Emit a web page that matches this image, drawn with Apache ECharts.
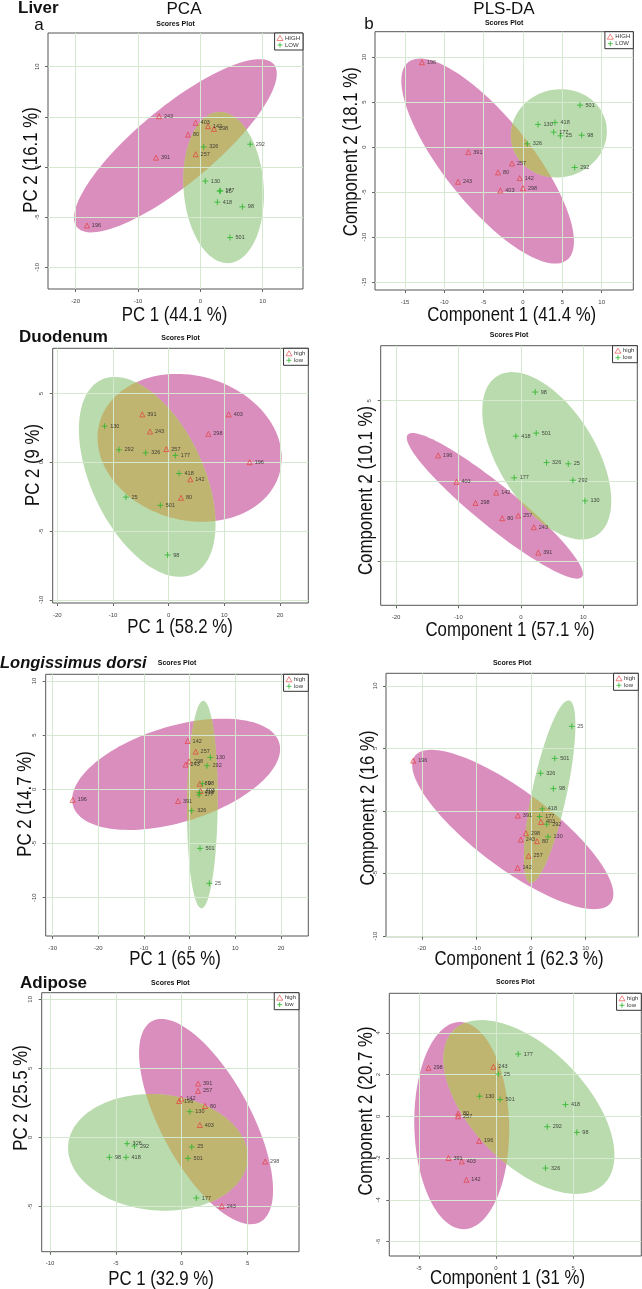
<!DOCTYPE html>
<html>
<head>
<meta charset="utf-8">
<script src="https://cdn.jsdelivr.net/npm/echarts@6/dist/echarts.min.js"></script>
<style>
  html, body { margin: 0; padding: 0; background: #fff; }
  #main { width: 642px; height: 1289px; }
</style>
</head>
<body>
<div id="main"></div>
<script>
// sample ids, same order in every score array below
const HIGH_IDS = ["196", "391", "243", "80", "257", "142", "403", "298"];
const LOW_IDS = ["130", "177", "418", "25", "98", "501", "292", "326"];

// Liver
const liverPcaHigh = [[-18.2, -5.83], [-7.11, 0.93], [-6.63, 5.07], [-1.98, 3.23], [-0.75, 1.27], [1.23, 4.07], [-0.75, 4.4], [2.19, 3.8]];
const liverPcaLow = [[0.8, -1.4], [3.1, -2.37], [2.73, -3.5], [3.2, -2.4], [6.74, -3.97], [4.76, -7.03], [8.0, 2.27], [0.53, 2.0]];
const liverPlsHigh = [[-12.84, 9.44], [-6.95, -0.56], [-8.26, -3.85], [-3.18, -2.81], [-1.4, -1.81], [-0.42, -3.44], [-2.88, -4.81], [0, -4.56]];
const liverPlsLow = [[1.91, 2.52], [3.9, 1.67], [4.07, 2.74], [4.75, 1.26], [7.46, 1.33], [7.25, 4.67], [6.57, -2.26], [0.55, 0.37]];
// Duodenum
const duoPcaHigh = [[14.55, 0.02], [-4.73, 3.49], [-3.35, 2.25], [2.22, -2.57], [-0.42, 0.97], [3.89, -1.23], [10.78, 3.49], [7.13, 2.08]];
const duoPcaLow = [[-11.5, 2.64], [1.2, 0.51], [1.86, -0.8], [-7.66, -2.52], [-0.18, -6.73], [-1.5, -3.12], [-8.92, 0.92], [-4.13, 0.7]];
const duoPlsHigh = [[-13.25, 1.6], [2.78, -4.44], [2.08, -2.86], [-2.99, -2.3], [-0.43, -2.14], [-3.95, -0.71], [-10.31, -0.04], [-7.26, -1.35]];
const duoPlsLow = [[10.26, -1.22], [-1.07, 0.21], [-0.8, 2.8], [7.59, 1.08], [2.3, 5.54], [2.46, 2.99], [8.33, 0.06], [4.11, 1.16]];
// Longissimus dorsi
const ldPcaHigh = [[-25.62, -0.98], [-2.55, -1.08], [-0.88, 2.28], [2.19, 0.52], [1.31, 3.48], [-0.44, 4.46], [2.41, -0.15], [-0.15, 2.58]];
const ldPcaLow = [[4.53, 2.95], [2.04, -0.52], [2.12, -0.28], [4.31, -8.68], [2.77, 0.52], [2.26, -5.45], [3.8, 2.18], [0.44, -1.97]];
const ldPlsHigh = [[-21.57, 4.02], [-2.39, -0.37], [-1.84, -2.29], [1.1, -2.42], [-0.43, -3.59], [-2.45, -4.55], [1.84, -0.88], [-0.92, -1.78]];
const ldPlsLow = [[3.13, -2.07], [1.59, -0.45], [2.08, 0.16], [7.48, 6.76], [4.11, 1.78], [4.35, 4.2], [2.88, -1.06], [1.78, 3.01]];
// Adipose
const adiPcaHigh = [[-0.2, 2.63], [1.24, 3.89], [3.04, -4.98], [1.77, 2.27], [1.24, 3.36], [-0.03, 2.8], [1.37, 0.89], [6.33, -1.76]];
const adiPcaLow = [[0.61, 1.86], [1.11, -4.4], [-4.23, -1.45], [0.76, -0.7], [-5.49, -1.45], [0.48, -1.52], [-3.59, -0.63], [-4.15, -0.46]];
const adiPlsHigh = [[-1.1, -1.18], [-3.08, -2.0], [-0.17, 2.37], [-2.46, 0.13], [-2.46, 0.0], [-1.92, -3.04], [-2.22, -2.16], [-4.38, 2.32]];
const adiPlsLow = [[-1.06, 0.96], [1.44, 2.98], [4.5, 0.56], [0.15, 2.02], [5.24, -0.77], [0.26, 0.8], [3.32, -0.5], [3.21, -2.48]];

// tick labels
const liverPcaXTicks = [-20, -10, 0, 10];
const liverPcaYTicks = [-10, -5, 0, 5, 10];
const liverPlsXTicks = [-15, -10, -5, 0, 5, 10];
const liverPlsYTicks = [-15, -10, -5, 0, 5, 10];
const duoPcaXTicks = [-20, -10, 0, 10, 20];
const duoPcaYTicks = [-10, -5, 0, 5];
const duoPlsXTicks = [-20, -10, 0, 10];
const duoPlsYTicks = [-5, 0, 5];
const ldPcaXTicks = [-30, -20, -10, 0, 10, 20];
const ldPcaYTicks = [-10, -5, 0, 5, 10];
const ldPlsXTicks = [-20, -10, 0, 10];
const ldPlsYTicks = [-10, -5, 0, 5, 10];
const adiPcaXTicks = [-10, -5, 0, 5];
const adiPcaYTicks = [-5, 0, 5, 10];
const adiPlsXTicks = [-5, 0, 5];
const adiPlsYTicks = [-6, -4, -2, 0, 2, 4];

const RED = "#e5403e";
const GREEN = "#2bb52b";
const PINK_FILL = "#da8ebe";
const GREEN_FILL = "#b9dbad";
const MIX_FILL = "#c0b471";
const GRID_LINE = "#d5e8d0";
const FONT = '"Liberation Sans", Arial, sans-serif';
const PLUS = "path://M5,0L5,10M0,5L10,5";

// box = [left, top, width, height]
const panels = [
  { high: liverPcaHigh, low: liverPcaLow, names: ["HIGH", "LOW"], box: [48, 33, 255, 256], xr: [-24.44, 16.47], yr: [-12.16, 13.36],
    xt: liverPcaXTicks, yt: liverPcaYTicks, xName: "PC 1 (44.1 %)", yName: "PC 2 (16.1 %)", xPos: [174.5, 315], yPos: [31.7, 160], tY: 23.7 },
  { high: liverPlsHigh, low: liverPlsLow, names: ["HIGH", "LOW"], box: [375, 31.7, 258.3, 258.3], xr: [-18.81, 14.02], yr: [-15.89, 12.84],
    xt: liverPlsXTicks, yt: liverPlsYTicks, xName: "Component 1 (41.4 %)", yName: "Component 2 (18.1 %)", xPos: [511.7, 315], yPos: [351.7, 151.7], tY: 22.7 },
  { high: duoPcaHigh, low: duoPcaLow, names: ["high", "low"], box: [52.7, 348.3, 255.6, 254.7], xr: [-20.83, 25.08], yr: [-10.22, 8.3],
    xt: duoPcaXTicks, yt: duoPcaYTicks, xName: "PC 1 (58.2 %)", yName: "PC 2 (9 %)", xPos: [180, 627.7], yPos: [33, 465], tY: 337.7 },
  { high: duoPlsHigh, low: duoPlsLow, names: ["high", "low"], box: [380.7, 345.7, 256.6, 259.6], xr: [-22.45, 18.65], yr: [-7.71, 8.42],
    xt: duoPlsXTicks, yt: duoPlsYTicks, xName: "Component 1 (57.1 %)", yName: "Component 2 (10.1 %)", xPos: [510, 630], yPos: [366.7, 490.5], tY: 335 },
  { high: ldPcaHigh, low: ldPcaLow, names: ["high", "low"], box: [45.7, 674.3, 262.6, 261.7], xr: [-31.53, 25.98], yr: [-13.54, 10.62],
    xt: ldPcaXTicks, yt: ldPcaYTicks, xName: "PC 1 (65 %)", yName: "PC 2 (14.7 %)", xPos: [175, 959], yPos: [25, 804], tY: 663.3 },
  { high: ldPlsHigh, low: ldPlsLow, names: ["high", "low"], box: [386, 673.3, 252.3, 263.4], xr: [-26.56, 19.67], yr: [-10.05, 11.0],
    xt: ldPlsXTicks, yt: ldPlsYTicks, xName: "Component 1 (62.3 %)", yName: "Component 2 (16 %)", xPos: [519, 959], yPos: [368.3, 808], tY: 662.7 },
  { high: adiPcaHigh, low: adiPcaLow, names: ["high", "low"], box: [41.7, 992.7, 257.3, 259], xr: [-10.63, 8.9], yr: [-8.29, 10.48],
    xt: adiPcaXTicks, yt: adiPcaYTicks, xName: "PC 1 (32.9 %)", yName: "PC 2 (25.5 %)", xPos: [161, 1279.3], yPos: [21.7, 1098], tY: 982.7 },
  { high: adiPlsHigh, low: adiPlsLow, names: ["high", "low"], box: [389.3, 993.3, 252, 262.7], xr: [-6.92, 9.42], yr: [-6.69, 5.89],
    xt: adiPlsXTicks, yt: adiPlsYTicks, xName: "Component 1 (31 %)", yName: "Component 2 (20.7 %)", xPos: [507.5, 1278.3], yPos: [366.7, 1111], tY: 982.3 }
];

// 95% confidence ellipse of a group (sample covariance, chi-square 2 df)
const CHI = Math.sqrt(5.991464547);
function ellipse(pts, n) {
  const m = pts.length;
  let mx = 0, my = 0;
  pts.forEach(p => { mx += p[0]; my += p[1]; });
  mx /= m; my /= m;
  let sxx = 0, syy = 0, sxy = 0;
  pts.forEach(p => {
    const dx = p[0] - mx, dy = p[1] - my;
    sxx += dx * dx; syy += dy * dy; sxy += dx * dy;
  });
  sxx /= m - 1; syy /= m - 1; sxy /= m - 1;
  const l11 = Math.sqrt(sxx), l21 = sxy / l11, l22 = Math.sqrt(Math.max(syy - l21 * l21, 0));
  const out = [];
  for (let i = 0; i < n; i++) {
    const t = 2 * Math.PI * i / n, c = Math.cos(t), s = Math.sin(t);
    out.push([mx + CHI * l11 * c, my + CHI * (l21 * c + l22 * s)]);
  }
  return out;
}

// overlap of two convex polygons (both counter-clockwise)
function clip(subject, clipPoly) {
  let output = subject;
  for (let i = 0; i < clipPoly.length; i++) {
    const a = clipPoly[i], b = clipPoly[(i + 1) % clipPoly.length];
    const input = output;
    output = [];
    if (!input.length) break;
    const inside = p => (b[0] - a[0]) * (p[1] - a[1]) - (b[1] - a[1]) * (p[0] - a[0]) >= 0;
    const cross = (p, q) => {
      const d = (p[0] - q[0]) * (a[1] - b[1]) - (p[1] - q[1]) * (a[0] - b[0]);
      const t = ((p[0] - a[0]) * (a[1] - b[1]) - (p[1] - a[1]) * (a[0] - b[0])) / d;
      return [p[0] + t * (q[0] - p[0]), p[1] + t * (q[1] - p[1])];
    };
    for (let j = 0; j < input.length; j++) {
      const cur = input[j], prev = input[(j + input.length - 1) % input.length];
      const ci = inside(cur), pi = inside(prev);
      if (ci) {
        if (!pi) output.push(cross(prev, cur));
        output.push(cur);
      } else if (pi) {
        output.push(cross(prev, cur));
      }
    }
  }
  return output;
}

function txt(text, x, y, font, extra, align) {
  return Object.assign({
    type: "text", x: x, y: y, silent: true, z: 10,
    style: { text: text, font: font, fill: "#111", align: align || "center", verticalAlign: "middle" }
  }, extra || {});
}

const grids = [], xAxes = [], yAxes = [], series = [], legends = [];
const graphics = [
  txt("Liver", 18, 8.5, "bold 17px " + FONT, null, "left"),
  txt("a", 39, 25, "17px " + FONT),
  txt("PCA", 184, 9, "17px " + FONT),
  txt("PLS-DA", 504, 9, "17px " + FONT),
  txt("b", 369, 24, "17px " + FONT),
  txt("Duodenum", 19, 337, "bold 17px " + FONT, null, "left"),
  txt("Longissimus dorsi", 0, 663, "italic bold 16.5px " + FONT, null, "left"),
  txt("Adipose", 20, 983, "bold 17px " + FONT, null, "left")
];

panels.forEach((p, i) => {
  const [left, top, width, height] = p.box;
  grids.push({ left: left, top: top, width: width, height: height, show: true, borderColor: "#555", borderWidth: 1,
    backgroundColor: "transparent", outerBoundsMode: "none" });
  xAxes.push({
    gridIndex: i, type: "value", min: p.xr[0], max: p.xr[1], z: 1, position: "bottom",
    axisLine: { show: false, onZero: false },
    axisTick: { show: true, length: 3, lineStyle: { color: "#666" }, customValues: p.xt },
    axisLabel: { customValues: p.xt, fontSize: 6, color: "#444", margin: 9, fontFamily: FONT },
    splitLine: { show: true, lineStyle: { color: GRID_LINE, width: 1 } }
  });
  yAxes.push({
    gridIndex: i, type: "value", min: p.yr[0], max: p.yr[1], z: 1, position: "left",
    axisLine: { show: false, onZero: false },
    axisTick: { show: true, length: 3, lineStyle: { color: "#666" }, customValues: p.yt },
    axisLabel: { customValues: p.yt, fontSize: 6, color: "#444", margin: 8, rotate: 90, fontFamily: FONT },
    splitLine: { show: true, lineStyle: { color: GRID_LINE, width: 1 } }
  });

  const eHigh = ellipse(p.high, 120);
  const eLow = ellipse(p.low, 120);
  const polys = [eHigh, eLow, clip(eHigh, eLow)];
  const fills = [PINK_FILL, GREEN_FILL, MIX_FILL];
  series.push({
    type: "custom", coordinateSystem: "cartesian2d", xAxisIndex: i, yAxisIndex: i, z: 0, silent: true,
    data: [[0, 0], [0, 0], [0, 0]],
    renderItem: function (params, api) {
      const poly = polys[params.dataIndex];
      if (!poly || poly.length < 3) return null;
      return { type: "polygon", shape: { points: poly.map(q => api.coord(q)) }, style: { fill: fills[params.dataIndex] } };
    }
  });

  const label = { show: true, position: "right", distance: 2, formatter: "{b}", fontSize: 5.5, color: "#222", fontFamily: FONT };
  series.push({
    type: "scatter", name: p.names[0], xAxisIndex: i, yAxisIndex: i, symbol: "triangle", symbolSize: 5, z: 3,
    itemStyle: { color: "rgba(0,0,0,0)", borderColor: RED, borderWidth: 0.9 },
    label: label, silent: true,
    data: p.high.map((v, k) => ({ name: HIGH_IDS[k], value: v }))
  });
  series.push({
    type: "scatter", name: p.names[1], xAxisIndex: i, yAxisIndex: i, symbol: PLUS, symbolSize: 6, z: 3,
    itemStyle: { color: "rgba(0,0,0,0)", borderColor: GREEN, borderWidth: 1 },
    label: label, silent: true,
    data: p.low.map((v, k) => ({ name: LOW_IDS[k], value: v }))
  });

  legends.push({
    orient: "vertical", right: 642 - (left + width), top: top, itemWidth: 6, itemHeight: 5, itemGap: 1,
    padding: [2, 3, 2, 2], borderColor: "#333", borderWidth: 1, backgroundColor: "#fff", selectedMode: false,
    textStyle: { fontSize: 6, color: "#333", fontFamily: FONT, padding: [0, 0, 0, -3] },
    data: [
      { name: p.names[0], icon: "triangle", itemStyle: { color: "rgba(0,0,0,0)", borderColor: RED, borderWidth: 0.8 } },
      { name: p.names[1], icon: PLUS, itemStyle: { color: "rgba(0,0,0,0)", borderColor: GREEN, borderWidth: 1 } }
    ]
  });

  graphics.push(txt("Scores Plot", left + width / 2, p.tY, "bold 7px " + FONT));
  graphics.push(txt(p.xName, p.xPos[0], p.xPos[1], "21px " + FONT, { scaleX: 0.8 }));
  graphics.push(txt(p.yName, p.yPos[0], p.yPos[1], "21px " + FONT, { scaleX: 0.8, rotation: Math.PI / 2 }));
});

const myChart = echarts.init(document.getElementById("main"));
myChart.setOption({
  animation: false,
  backgroundColor: "#fff",
  grid: grids,
  xAxis: xAxes,
  yAxis: yAxes,
  legend: legends,
  series: series,
  graphic: graphics
});
window.addEventListener("resize", function () {
  myChart.resize();
});
</script>
</body>
</html>
